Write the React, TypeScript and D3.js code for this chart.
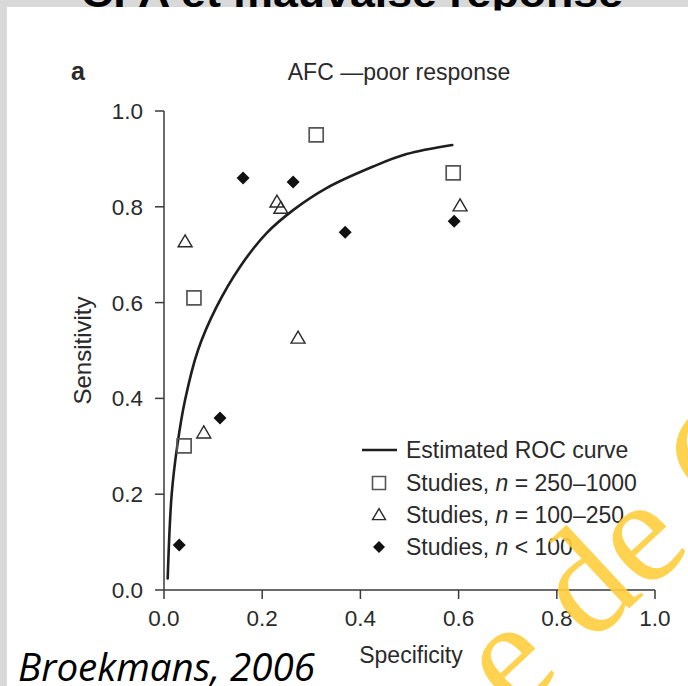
import React from 'react';
import * as d3 from 'd3';

// Axis ticks
const xTicks = [0, 0.2, 0.4, 0.6, 0.8, 1.0];
const yTicks = [0, 0.2, 0.4, 0.6, 0.8, 1.0];

// Study points: [specificity axis value, sensitivity]
const largeStudies: [number, number][] = [
  [0.310, 0.950], [0.589, 0.871], [0.061, 0.610], [0.041, 0.301],
];
const mediumStudies: [number, number][] = [
  [0.043, 0.727], [0.230, 0.810], [0.238, 0.797], [0.273, 0.526], [0.081, 0.328], [0.603, 0.802],
];
const smallStudies: [number, number][] = [
  [0.161, 0.860], [0.263, 0.852], [0.369, 0.747], [0.591, 0.770], [0.114, 0.359], [0.031, 0.094],
];

// Estimated summary ROC curve
const rocCurve: [number, number][] = [
  [0.0075, 0.024], [0.0156, 0.199], [0.027, 0.301], [0.043, 0.397], [0.069, 0.50],
  [0.107, 0.591], [0.155, 0.675], [0.209, 0.745], [0.263, 0.793], [0.331, 0.839],
  [0.426, 0.884], [0.494, 0.910], [0.587, 0.929],
];

const legendLabels = ['Estimated ROC curve', '250–1000', '100–250', '100'];

const FONT = '"Liberation Sans", Arial, Helvetica, sans-serif';

function squarePath(cx: number, cy: number, s: number) {
  return `M${cx - s / 2},${cy - s / 2}h${s}v${s}h${-s}Z`;
}
function trianglePath(cx: number, cy: number, w: number, h: number) {
  return `M${cx},${cy - h * 0.58}L${cx + w / 2},${cy + h * 0.42}L${cx - w / 2},${cy + h * 0.42}Z`;
}
function diamondPath(cx: number, cy: number, r: number) {
  return `M${cx},${cy - r}L${cx + r},${cy}L${cx},${cy + r}L${cx - r},${cy}Z`;
}

export default function App() {
  const x = d3.scaleLinear().domain([0, 1]).range([164, 655]);
  const y = d3.scaleLinear().domain([0, 1]).range([590, 111]);

  const line = d3
    .line<[number, number]>()
    .x((d) => x(d[0]))
    .y((d) => y(d[1]))
    .curve(d3.curveCatmullRom.alpha(0.5));

  const axisColor = '#3a3a3a';
  const textColor = '#2a2a2a';

  const legendX = 379;
  const legendRows = [450, 483, 515, 547];

  return (
    <svg
      width={688}
      height={686}
      style={{ position: 'absolute', left: 0, top: 0 }}
      xmlns="http://www.w3.org/2000/svg"
    >
      <defs>
        <clipPath id="headClip">
          <rect x={0} y={0} width={688} height={10.5} />
        </clipPath>
      </defs>
      <rect x={0} y={0} width={688} height={686} fill="#d9d9d9" />
      <rect x={7} y={7} width={681} height={679} fill="#ffffff" />

      {/* slide heading, mostly above the visible area */}
      <g clipPath="url(#headClip)">
        <text
          x={352}
          y={6.5}
          textAnchor="middle"
          fontFamily={FONT}
          fontWeight="bold"
          fontSize={41}
          fill="#000"
          textLength={542}
          lengthAdjust="spacingAndGlyphs"
        >
          CFA et mauvaise réponse
        </text>
      </g>

      {/* panel letter and title */}
      <text x={71} y={80} fontFamily={FONT} fontWeight="bold" fontSize={25} fill={textColor}>
        a
      </text>
      <text x={399} y={80} textAnchor="middle" fontFamily={FONT} fontSize={23} fill={textColor}>
        AFC —poor response
      </text>

      {/* axes */}
      <g stroke={axisColor} strokeWidth={1.5} fill="none">
        <line x1={x(0)} x2={x(0)} y1={y(1)} y2={y(0)} />
        <line x1={x(0)} x2={x(1)} y1={y(0)} y2={y(0)} />
        {yTicks.map((t) => (
          <line key={'yt' + t} x1={x(0) - 9} x2={x(0)} y1={y(t)} y2={y(t)} />
        ))}
        {xTicks.map((t) => (
          <line key={'xt' + t} x1={x(t)} x2={x(t)} y1={y(0)} y2={y(0) + 9} />
        ))}
      </g>
      {yTicks.map((t) => (
        <text
          key={'yl' + t}
          x={x(0) - 21}
          y={y(t) + 8}
          textAnchor="end"
          fontFamily={FONT}
          fontSize={22.5}
          fill={textColor}
        >
          {t.toFixed(1)}
        </text>
      ))}
      {xTicks.map((t) => (
        <text
          key={'xl' + t}
          x={x(t)}
          y={626}
          textAnchor="middle"
          fontFamily={FONT}
          fontSize={22.5}
          fill={textColor}
        >
          {t.toFixed(1)}
        </text>
      ))}
      <text
        x={411}
        y={663}
        textAnchor="middle"
        fontFamily={FONT}
        fontSize={23}
        fill={textColor}
      >
        Specificity
      </text>
      <text
        transform={`translate(91,${(y(0) + y(1)) / 2}) rotate(-90)`}
        textAnchor="middle"
        fontFamily={FONT}
        fontSize={24}
        fill={textColor}
      >
        Sensitivity
      </text>

      {/* estimated ROC curve */}
      <path d={line(rocCurve) || ''} fill="none" stroke="#1e1e1e" strokeWidth={2.6} strokeLinecap="round" />

      {/* studies */}
      {largeStudies.map((d, i) => (
        <path key={'sq' + i} d={squarePath(x(d[0]), y(d[1]), 14)} fill="none" stroke="#555" strokeWidth={1.7} />
      ))}
      {mediumStudies.map((d, i) => (
        <path key={'tr' + i} d={trianglePath(x(d[0]), y(d[1]), 14, 12)} fill="none" stroke="#2a2a2a" strokeWidth={1.4} />
      ))}
      {smallStudies.map((d, i) => (
        <path key={'di' + i} d={diamondPath(x(d[0]), y(d[1]), 6.5)} fill="#111" />
      ))}

      {/* legend */}
      <line x1={362} x2={397} y1={legendRows[0]} y2={legendRows[0]} stroke="#1e1e1e" strokeWidth={2.6} />
      <path d={squarePath(legendX, legendRows[1], 13)} fill="none" stroke="#555" strokeWidth={1.6} />
      <path d={trianglePath(legendX, legendRows[2], 13, 11)} fill="none" stroke="#2a2a2a" strokeWidth={1.4} />
      <path d={diamondPath(legendX, legendRows[3], 6)} fill="#111" />
      <g fontFamily={FONT} fontSize={23} fill={textColor}>
        <text x={406} y={legendRows[0] + 8}>{legendLabels[0]}</text>
        <text x={406} y={legendRows[1] + 8}>
          Studies, <tspan fontStyle="italic">n</tspan> = {legendLabels[1]}
        </text>
        <text x={406} y={legendRows[2] + 8}>
          Studies, <tspan fontStyle="italic">n</tspan> = {legendLabels[2]}
        </text>
        <text x={406} y={legendRows[3] + 8}>
          Studies, <tspan fontStyle="italic">n</tspan> &lt; {legendLabels[3]}
        </text>
      </g>

      {/* source */}
      <text
        x={18}
        y={681}
        fontFamily='"Open Sans", "Noto Sans", sans-serif'
        fontStyle="italic"
        fontSize={38}
        fill="#000"
        textLength={297}
        lengthAdjust="spacingAndGlyphs"
      >
        Broekmans, 2006
      </text>

      {/* watermark */}
      <text
        transform="translate(514,716) rotate(-43)"
        fontFamily='"Liberation Serif", "DejaVu Serif", serif'
        fontSize={150}
        fill="rgb(255,206,60)"
        fillOpacity={0.9}
      >
        e de C
      </text>
    </svg>
  );
}
